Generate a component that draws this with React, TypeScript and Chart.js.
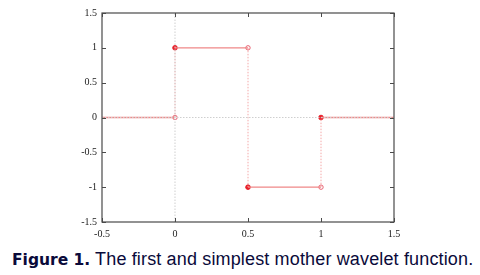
import React, { useEffect, useRef } from "react";
import { Chart, registerables } from "chart.js";

Chart.register(...registerables);

// Haar wavelet: piecewise constant segments
const segStart = [-0.5, 0, 0.5, 1];
const segEnd = [0, 0.5, 1, 1.5];
const segValue = [0, 1, -1, 0];
// Filled (included) endpoints and open (excluded) endpoints
const filledX = [0, 0.5, 1];
const filledY = [1, -1, 0];
const openX = [0, 0.5, 1];
const openY = [0, 1, -1];
// Axis ticks
const xTicks = [-0.5, 0, 0.5, 1, 1.5];
const yTicks = [-1.5, -1, -0.5, 0, 0.5, 1, 1.5];
const caption = "The first and simplest mother wavelet function.";

const LINE = "#f08888";
const DOT = "#e8202a";

const framePlugin = {
  id: "frameTicks",
  afterDatasetsDraw(chart: any) {
    const { ctx, chartArea: a, scales } = chart;
    ctx.save();
    ctx.strokeStyle = "#4a4a4a";
    ctx.lineWidth = 1.2;
    ctx.strokeRect(a.left, a.top, a.right - a.left, a.bottom - a.top);
    const L = 4;
    ctx.lineWidth = 1;
    ctx.beginPath();
    for (const v of xTicks) {
      const px = Math.round(scales.x.getPixelForValue(v)) + 0.5;
      ctx.moveTo(px, a.bottom);
      ctx.lineTo(px, a.bottom - L);
      ctx.moveTo(px, a.top);
      ctx.lineTo(px, a.top + L);
    }
    for (const v of yTicks) {
      const py = Math.round(scales.y.getPixelForValue(v)) + 0.5;
      ctx.moveTo(a.left, py);
      ctx.lineTo(a.left + L, py);
      ctx.moveTo(a.right, py);
      ctx.lineTo(a.right - L, py);
    }
    ctx.stroke();
    ctx.restore();
  },
};

export default function App() {
  const ref = useRef<HTMLCanvasElement | null>(null);

  useEffect(() => {
    if (!ref.current) return;
    const horiz: any[] = [];
    const vert: any[] = [];
    segStart.forEach((s, i) => {
      horiz.push({ x: s, y: segValue[i] });
      horiz.push({ x: segEnd[i], y: segValue[i] });
      horiz.push({ x: segEnd[i], y: null });
      if (i < segStart.length - 1) {
        vert.push({ x: segEnd[i], y: segValue[i] });
        vert.push({ x: segEnd[i], y: segValue[i + 1] });
        vert.push({ x: segEnd[i], y: null });
      }
    });
    const chart = new Chart(ref.current, {
      type: "scatter",
      data: {
        datasets: [
          {
            data: [
              { x: 0, y: yTicks[0] },
              { x: 0, y: yTicks[yTicks.length - 1] },
            ],
            showLine: true,
            borderColor: "#cfcfcf",
            borderWidth: 1,
            borderDash: [1.5, 1.5],
            pointRadius: 0,
          },
          {
            data: [
              { x: xTicks[0], y: 0 },
              { x: xTicks[xTicks.length - 1], y: 0 },
            ],
            showLine: true,
            borderColor: "#cfcfcf",
            borderWidth: 1,
            borderDash: [1.5, 1.5],
            pointRadius: 0,
          },
          {
            data: vert,
            showLine: true,
            spanGaps: false,
            borderColor: "#f4a8a8",
            borderWidth: 1,
            borderDash: [1.5, 1.5],
            pointRadius: 0,
          },
          {
            data: horiz,
            showLine: true,
            spanGaps: false,
            borderColor: LINE,
            borderWidth: 1.3,
            pointRadius: 0,
          },
          {
            data: filledX.map((x, i) => ({ x, y: filledY[i] })),
            pointRadius: 2.3,
            pointBackgroundColor: DOT,
            pointBorderColor: DOT,
            pointBorderWidth: 1,
          },
          {
            data: openX.map((x, i) => ({ x, y: openY[i] })),
            pointRadius: 2.2,
            pointBackgroundColor: "#ffffff",
            pointBorderColor: "#e86070",
            pointBorderWidth: 1,
          },
        ],
      },
      options: {
        animation: false,
        responsive: false,
        events: [],
        layout: { padding: { left: 0, right: 86, top: 13, bottom: 0 } },
        plugins: { legend: { display: false }, tooltip: { enabled: false } },
        scales: {
          x: {
            type: "linear",
            min: xTicks[0],
            max: xTicks[xTicks.length - 1],
            afterBuildTicks: (s: any) => {
              s.ticks = xTicks.map((v) => ({ value: v }));
            },
            afterFit: (s: any) => {
              s.height = 18;
            },
            grid: { display: false, drawTicks: false },
            border: { display: false },
            ticks: {
              padding: 6,
              color: "#222",
              font: { family: "Liberation Serif", size: 10 },
              maxRotation: 0,
              autoSkip: false,
              callback: (v: any) => String(v),
            },
          },
          y: {
            type: "linear",
            min: yTicks[0],
            max: yTicks[yTicks.length - 1],
            afterBuildTicks: (s: any) => {
              s.ticks = yTicks.map((v) => ({ value: v }));
            },
            afterFit: (s: any) => {
              s.width = 102;
            },
            grid: { display: false, drawTicks: false },
            border: { display: false },
            ticks: {
              padding: 5,
              color: "#222",
              font: { family: "Liberation Serif", size: 10 },
              autoSkip: false,
              callback: (v: any) => String(v),
            },
          },
        },
      },
      plugins: [framePlugin],
    } as any);
    return () => chart.destroy();
  }, []);

  return (
    <div
      style={{
        position: "absolute",
        left: 0,
        top: 0,
        width: 480,
        height: 275,
        background: "#fff",
      }}
    >
      <canvas
        ref={ref}
        width={480}
        height={240}
        style={{ position: "absolute", left: 0, top: 0, width: 480, height: 240 }}
      />
      <div
        style={{
          position: "absolute",
          left: 12,
          top: 248,
          whiteSpace: "nowrap",
          fontSize: 18,
          lineHeight: "22px",
          letterSpacing: "0.15px",
          color: "#0a0a3a",
          fontFamily: "'Liberation Sans', Arial, sans-serif",
        }}
      >
        <span
          style={{
            fontFamily: "'DejaVu Sans', Verdana, sans-serif",
            fontWeight: "bold",
            fontSize: 15.5,
            letterSpacing: 0,
          }}
        >
          Figure 1.
        </span>{" "}
        {caption}
      </div>
    </div>
  );
}
